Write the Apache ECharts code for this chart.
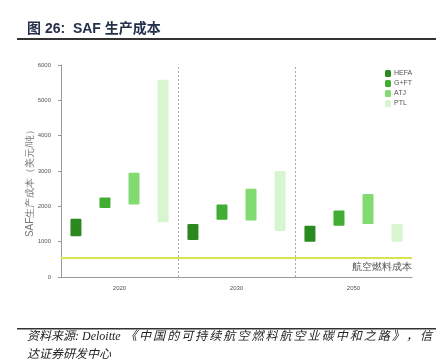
<!DOCTYPE html>
<html>
<head>
<meta charset="utf-8">
<script src="https://cdn.jsdelivr.net/npm/echarts@6/dist/echarts.min.js"></script>
<style>
  html, body { margin: 0; padding: 0; background: #fff; }
  #chart { width: 446px; height: 364px; }
</style>
</head>
<body>
<div id="chart"></div>
<script>
// 年份
var categories = ['2020', '2030', '2050'];
// 各路线成本区间 (美元/吨)
var hefaLow = [1150, 1050, 1000], hefaHigh = [1650, 1500, 1450];
var gftLow = [1950, 1620, 1450], gftHigh = [2250, 2050, 1880];
var atjLow = [2050, 1600, 1500], atjHigh = [2950, 2500, 2350];
var ptlLow = [1550, 1300, 1000], ptlHigh = [5580, 3000, 1500];
// 航空燃料成本
var jetFuelCost = 550;
var yMin = 0, yMax = 6000, yStep = 1000;

var routes = [
    {name: 'HEFA', low: hefaLow, high: hefaHigh, color: '#2a8a1f'},
    {name: 'G+FT', low: gftLow, high: gftHigh, color: '#42ad33'},
    {name: 'ATJ', low: atjLow, high: atjHigh, color: '#82db70'},
    {name: 'PTL', low: ptlLow, high: ptlHigh, color: '#d7f5d0'}
];

var series = [];
for (var i = 0; i < routes.length; i++) {
    var r = routes[i];
    var span = [];
    for (var j = 0; j < r.low.length; j++) {
        span.push(r.high[j] - r.low[j]);
    }
    series.push({
        name: r.name + '_base',
        type: 'bar',
        stack: r.name,
        barWidth: 11,
        barGap: '164%',
        itemStyle: {color: 'transparent'},
        emphasis: {disabled: true},
        data: r.low
    });
    series.push({
        name: r.name,
        type: 'bar',
        stack: r.name,
        barWidth: 11,
        barGap: '164%',
        itemStyle: {color: r.color, borderRadius: 1},
        data: span
    });
}
// 航空燃料成本线
series[1].markLine = {
    silent: true,
    symbol: 'none',
    lineStyle: {color: '#d8e44c', width: 2, type: 'solid'},
    label: {
        position: 'insideEndBottom',
        formatter: '航空燃料成本',
        color: '#555',
        fontSize: 10,
        distance: [0, 5]
    },
    data: [{yAxis: jetFuelCost}]
};
// 年份之间的虚线分隔(辅助数值轴 0~3)
var dividers = [];
for (var d = 1; d < categories.length; d++) {
    dividers.push({xAxis: d});
}
series.push({
    name: 'divider',
    type: 'line',
    xAxisIndex: 1,
    data: [],
    silent: true,
    markLine: {
        silent: true,
        symbol: 'none',
        label: {show: false},
        lineStyle: {color: '#aaa', type: [2, 2], width: 1},
        data: dividers
    }
});

// 资料来源(第一行两端对齐)
var srcFont = 'Liberation Serif, Noto Sans CJK SC';
var srcHead = '资料来源: Deloitte';
var srcRest = '《中国的可持续航空燃料航空业碳中和之路》，信';
var srcLine2 = '达证券研发中心';
var graphics = [
    {type: 'rect', shape: {x: 17, y: 38, width: 419, height: 2}, style: {fill: '#333'}},
    {type: 'rect', shape: {x: 17, y: 328, width: 419, height: 1.5}, style: {fill: '#333'}},
    {type: 'text', x: 27, y: 331, style: {
        text: srcHead, fontSize: 12, fontStyle: 'italic', fill: '#222', fontFamily: srcFont
    }},
    {type: 'text', x: 27, y: 349, style: {
        text: srcLine2, fontSize: 12, fontStyle: 'italic', fill: '#222', fontFamily: srcFont
    }}
];
var restStart = 125, restEnd = 420;
var step = (restEnd - restStart) / (srcRest.length - 1);
for (var k = 0; k < srcRest.length; k++) {
    graphics.push({type: 'text', x: restStart + k * step, y: 331, style: {
        text: srcRest.charAt(k), fontSize: 12, fontStyle: 'italic', fill: '#222', fontFamily: srcFont
    }});
}

var chart = echarts.init(document.getElementById('chart'));
chart.setOption({
    animation: false,
    backgroundColor: '#fff',
    title: {
        text: '图 26:  SAF 生产成本',
        left: 27,
        top: 22,
        padding: 0,
        textStyle: {fontSize: 14, fontWeight: 'bold', color: '#25304a', fontFamily: 'Liberation Sans, Noto Sans CJK SC'}
    },
    legend: {
        data: ['HEFA', 'G+FT', 'ATJ', 'PTL'],
        orient: 'vertical',
        left: 380,
        top: 65,
        itemWidth: 6,
        itemHeight: 7,
        itemGap: 3,
        selectedMode: false,
        textStyle: {fontSize: 7, color: '#555', padding: [0, 0, 0, -2]}
    },
    grid: {left: 61, right: 34, top: 65, bottom: 87},
    xAxis: [{
        type: 'category',
        data: categories,
        axisLine: {lineStyle: {color: '#999'}},
        axisTick: {show: false},
        axisLabel: {fontSize: 6, color: '#555', margin: 8},
        splitLine: {show: false}
    }, {
        type: 'value',
        min: 0,
        max: categories.length,
        show: false
    }],
    yAxis: {
        type: 'value',
        min: yMin,
        max: yMax,
        interval: yStep,
        name: 'SAF生产成本（美元/吨）',
        nameLocation: 'middle',
        nameGap: 26,
        nameMoveOverlap: false,
        nameTextStyle: {fontSize: 10, color: '#777', padding: [0, 20, 0, 0]},
        axisLine: {show: true, lineStyle: {color: '#999'}},
        axisTick: {show: true, length: 3, lineStyle: {color: '#999'}},
        axisLabel: {fontSize: 6, color: '#555', margin: 10, formatter: function(v){ return String(v); }},
        splitLine: {show: false}
    },
    graphic: graphics,
    series: series
});
</script>
</body>
</html>
